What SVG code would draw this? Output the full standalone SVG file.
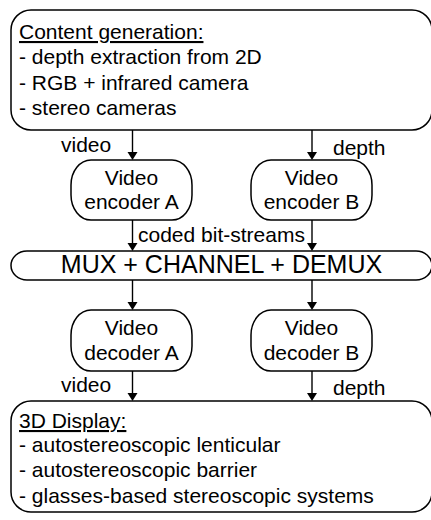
<svg xmlns="http://www.w3.org/2000/svg" width="431" height="520" viewBox="0 0 431 520">
<defs>
<style>
text{font-family:"Liberation Sans",Arial,sans-serif;font-size:21px;fill:#000}
.box{fill:#fff;stroke:#000;stroke-width:1.5}
.c{text-anchor:middle}
.u{text-decoration:underline}
.ln{stroke:#000;stroke-width:1.4;fill:none}
.ah{fill:#000;stroke:none}
</style>
</defs>
<rect width="431" height="520" fill="#fff"/>
<g id="content">
<rect class="box" x="11" y="10" width="421" height="120" rx="20" ry="20"/>
<text x="19" y="39" class="u">Content generation:</text>
<text x="19" y="64">- depth extraction from 2D</text>
<text x="19" y="89.5">- RGB + infrared camera</text>
<text x="19" y="115">- stereo cameras</text>
</g>
<g id="encA">
<rect class="box" x="71" y="160" width="121" height="60" rx="20" ry="25"/>
<text x="131.5" y="185" class="c">Video</text>
<text x="131.5" y="209" class="c">encoder A</text>
</g>
<g id="encB">
<rect class="box" x="251" y="160" width="121" height="60" rx="20" ry="25"/>
<text x="311.5" y="185" class="c">Video</text>
<text x="311.5" y="209" class="c">encoder B</text>
</g>
<g id="mux">
<rect class="box" x="11" y="251" width="421" height="29" rx="16" ry="14.5"/>
<text x="221.5" y="273" class="c" style="font-size:25px">MUX + CHANNEL + DEMUX</text>
</g>
<g id="decA">
<rect class="box" x="71" y="310" width="121" height="61" rx="20" ry="25"/>
<text x="131.5" y="335" class="c">Video</text>
<text x="131.5" y="360" class="c">decoder A</text>
</g>
<g id="decB">
<rect class="box" x="251" y="310" width="121" height="61" rx="20" ry="25"/>
<text x="311.5" y="335" class="c">Video</text>
<text x="311.5" y="360" class="c">decoder B</text>
</g>
<g id="display">
<rect class="box" x="11" y="401" width="421" height="111" rx="20" ry="20"/>
<text x="19" y="428" class="u">3D Display:</text>
<text x="19" y="452">- autostereoscopic lenticular</text>
<text x="19" y="477">- autostereoscopic barrier</text>
<text x="19" y="503">- glasses-based stereoscopic systems</text>
</g>
<g id="connectors">
<line class="ln" x1="132.5" y1="130" x2="132.5" y2="153"/>
<path class="ah" d="M127.5,152 L137.5,152 L132.5,160 Z"/>
<line class="ln" x1="312" y1="130" x2="312" y2="153"/>
<path class="ah" d="M307,152 L317,152 L312,160 Z"/>
<line class="ln" x1="132.5" y1="220" x2="132.5" y2="244"/>
<path class="ah" d="M127.5,243 L137.5,243 L132.5,251 Z"/>
<line class="ln" x1="312" y1="220" x2="312" y2="244"/>
<path class="ah" d="M307,243 L317,243 L312,251 Z"/>
<line class="ln" x1="132.5" y1="280" x2="132.5" y2="303"/>
<path class="ah" d="M127.5,302 L137.5,302 L132.5,310 Z"/>
<line class="ln" x1="312" y1="280" x2="312" y2="303"/>
<path class="ah" d="M307,302 L317,302 L312,310 Z"/>
<line class="ln" x1="132.5" y1="371" x2="132.5" y2="394"/>
<path class="ah" d="M127.5,393 L137.5,393 L132.5,401 Z"/>
<line class="ln" x1="312" y1="371" x2="312" y2="394"/>
<path class="ah" d="M307,393 L317,393 L312,401 Z"/>
<text x="61" y="152">video</text>
<text x="333" y="155">depth</text>
<text x="138" y="242">coded bit-streams</text>
<text x="61" y="392">video</text>
<text x="333" y="395">depth</text>
</g>
</svg>
